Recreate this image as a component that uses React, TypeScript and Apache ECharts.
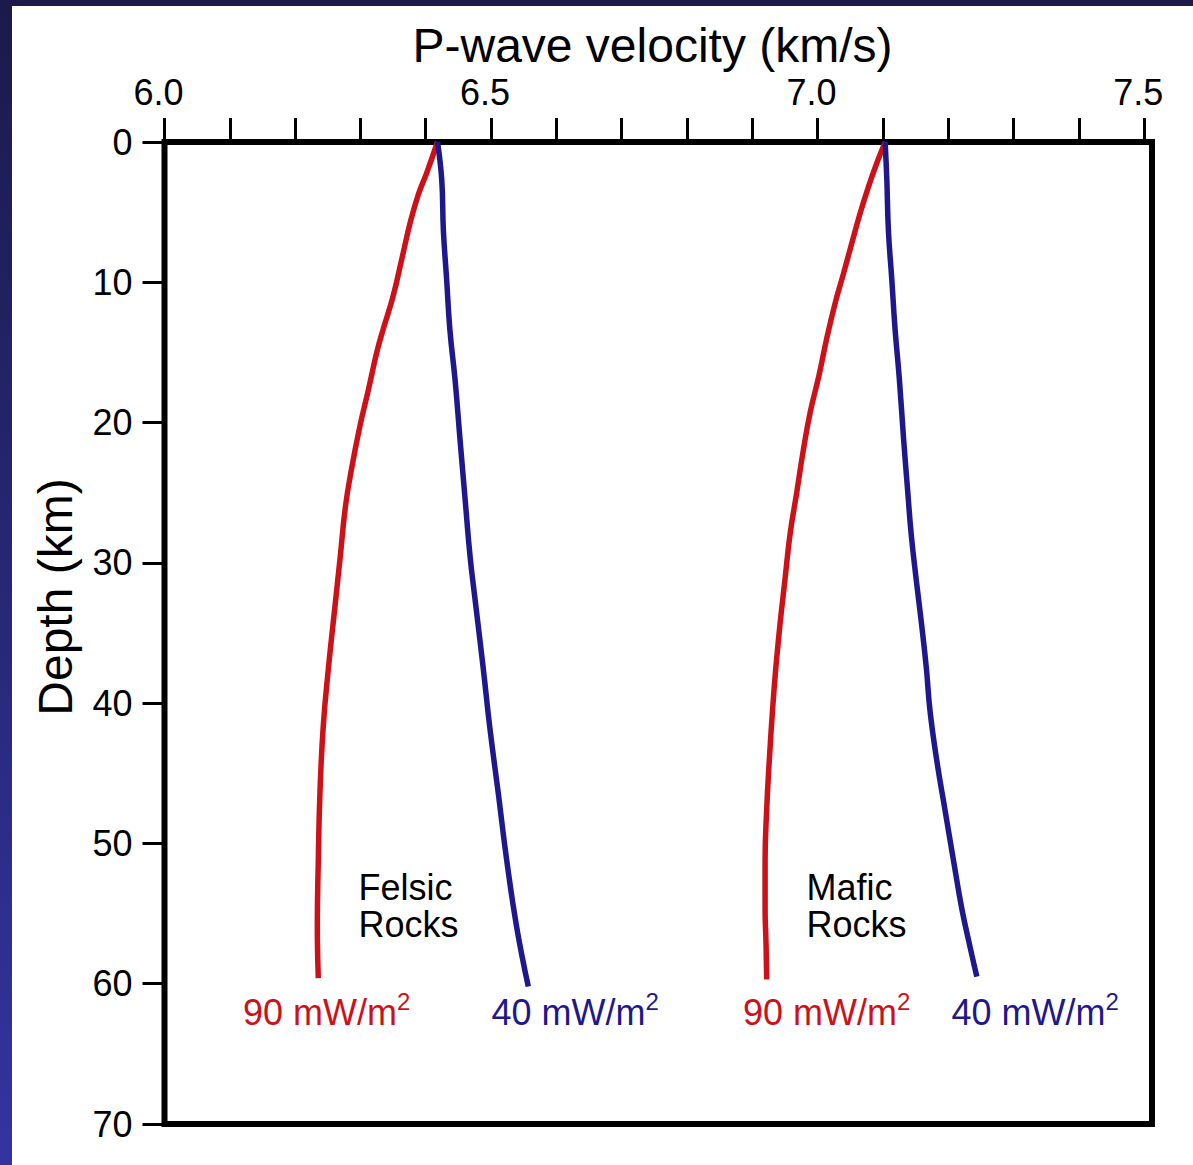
import React, { useEffect, useRef } from 'react';
import * as echarts from 'echarts';

// Axis ticks / labels
const velocityTicks = [6.0, 6.1, 6.2, 6.3, 6.4, 6.5, 6.6, 6.7, 6.8, 6.9, 7.0, 7.1, 7.2, 7.3, 7.4, 7.5];
const velocityLabels = [6.0, 6.5, 7.0, 7.5];
const depthTicks = [0, 10, 20, 30, 40, 50, 60, 70];

// [velocity km/s, depth km]
const felsic90 = [
  [6.418, 0], [6.4015, 2.2], [6.389, 3.7], [6.377, 5.6], [6.364, 8.2], [6.350, 11.0],
  [6.3345, 13.4], [6.325, 15.0], [6.312, 17.7], [6.299, 20.3], [6.286, 23.4], [6.277, 26.0],
  [6.269, 29.6], [6.261, 33.1], [6.251, 37.5], [6.243, 41.7], [6.238, 46.4], [6.2355, 51.2],
  [6.234, 55.9], [6.2355, 59.6],
];
const felsic40 = [
  [6.418, 0], [6.4245, 2.7], [6.427, 6.3], [6.432, 9.8], [6.437, 13.4], [6.445, 17.0],
  [6.4525, 21.2], [6.460, 25.3], [6.468, 29.6], [6.4755, 32.6], [6.488, 37.5], [6.498, 41.7],
  [6.511, 46.4], [6.524, 51.2], [6.539, 55.9], [6.557, 60.2],
];
const mafic90 = [
  [7.1034, 0], [7.0907, 1.5], [7.0778, 3.2], [7.065, 5.1], [7.0524, 7.2], [7.0395, 9.4],
  [7.0268, 11.5], [7.014, 14.0], [7.0023, 16.6], [6.9885, 19.3], [6.978, 22.0], [6.968, 25.0],
  [6.958, 27.9], [6.950, 31.2], [6.9426, 34.3], [6.936, 37.5], [6.931, 40.5], [6.926, 44.1],
  [6.922, 47.6], [6.9196, 51.2], [6.9196, 54.7], [6.921, 57.1], [6.922, 59.7],
];
const mafic40 = [
  [7.1034, 0], [7.106, 2.7], [7.1084, 6.3], [7.1136, 9.8], [7.1187, 13.4], [7.125, 16.8],
  [7.1317, 21.2], [7.1378, 24.8], [7.1432, 27.9], [7.151, 31.2], [7.1590, 34.3], [7.1665, 37.5],
  [7.172, 40.5], [7.1825, 44.1], [7.195, 47.6], [7.208, 51.2], [7.221, 54.7], [7.2335, 57.4],
  [7.2438, 59.5],
];

const xTitle = 'P-wave velocity (km/s)';
const yTitle = 'Depth (km)';
const heatFlowHigh = '90 mW/m';
const heatFlowLow = '40 mW/m';

const FONT = '"Liberation Sans", Arial, Helvetica, sans-serif';
const RED = '#cc1218';
const BLUE = '#1f188c';

export default function App() {
  const ref = useRef<HTMLDivElement>(null);

  useEffect(() => {
    if (!ref.current) return;
    const chart = echarts.init(ref.current, null, { renderer: 'svg' });

    const lineSeries = (name: string, data: number[][], color: string) => ({
      type: 'line',
      name,
      data,
      showSymbol: false,
      symbol: 'none',
      smooth: 0.45,
      lineStyle: { color, width: 5.5, cap: 'butt', join: 'round' },
      itemStyle: { color },
      z: 3,
    });

    const fluxLabel = (x: number, y: number, txt: string, color: string) => ({
      type: 'text',
      x,
      y,
      silent: true,
      style: {
        text: `{a|${txt}}{b|2}`,
        fill: color,
        align: 'left',
        verticalAlign: 'top',
        rich: {
          a: { fontSize: 36, fontFamily: FONT, fill: color, lineHeight: 46 },
          b: { fontSize: 24, fontFamily: FONT, fill: color, lineHeight: 24, verticalAlign: 'top' },
        },
      },
    });

    const rockLabel = (x: number, y: number, txt: string) => ({
      type: 'text',
      x,
      y,
      silent: true,
      style: {
        text: txt,
        fontSize: 36,
        fontFamily: FONT,
        fill: '#000',
        lineHeight: 37,
        align: 'left',
        verticalAlign: 'top',
      },
    });

    chart.setOption({
      animation: false,
      backgroundColor: '#ffffff',
      grid: {
        left: 164.5,
        top: 142,
        right: 41,
        bottom: 41,
        show: true,
        borderColor: '#000',
        borderWidth: 6,
        backgroundColor: 'transparent',
      },
      xAxis: {
        type: 'value',
        position: 'top',
        min: 6.0,
        max: 7.512,
        axisLine: { show: false },
        axisTick: {
          show: true,
          inside: false,
          length: 24,
          lineStyle: { color: '#000', width: 3 },
          customValues: velocityTicks,
        },
        axisLabel: {
          customValues: velocityLabels,
          formatter: (v: number) => v.toFixed(1),
          fontSize: 36,
          fontFamily: FONT,
          color: '#000',
          margin: 32,
          padding: [0, 12, 0, 0],
        },
        splitLine: { show: false },
      },
      yAxis: {
        type: 'value',
        inverse: true,
        min: 0,
        max: 70,
        interval: 10,
        axisLine: { show: false },
        axisTick: {
          show: true,
          inside: false,
          length: 22,
          lineStyle: { color: '#000', width: 3 },
          customValues: depthTicks,
        },
        axisLabel: {
          customValues: depthTicks,
          fontSize: 36,
          fontFamily: FONT,
          color: '#000',
          margin: 32,
        },
        splitLine: { show: false },
      },
      series: [
        lineSeries('Felsic 90 mW/m2', felsic90, RED),
        lineSeries('Felsic 40 mW/m2', felsic40, BLUE),
        lineSeries('Mafic 90 mW/m2', mafic90, RED),
        lineSeries('Mafic 40 mW/m2', mafic40, BLUE),
      ],
      graphic: [
        {
          type: 'rect',
          silent: true,
          shape: { x: 0, y: 0, width: 1193, height: 6 },
          style: { fill: '#1b1a4b' },
        },
        {
          type: 'rect',
          silent: true,
          shape: { x: 0, y: 0, width: 12, height: 1165 },
          style: {
            fill: new echarts.graphic.LinearGradient(0, 0, 0, 1, [
              { offset: 0, color: '#1b1a4b' },
              { offset: 1, color: '#3334a0' },
            ]),
          },
        },
        {
          type: 'text',
          x: 652.5,
          y: 45,
          silent: true,
          style: {
            text: xTitle,
            fontSize: 48,
            fontFamily: FONT,
            fill: '#000',
            align: 'center',
            verticalAlign: 'middle',
          },
        },
        {
          type: 'text',
          x: 55,
          y: 597,
          rotation: Math.PI / 2,
          silent: true,
          style: {
            text: yTitle,
            fontSize: 48,
            fontFamily: FONT,
            fill: '#000',
            align: 'center',
            verticalAlign: 'middle',
          },
        },
        rockLabel(358.5, 869, 'Felsic\nRocks'),
        rockLabel(806.5, 869, 'Mafic\nRocks'),
        fluxLabel(243, 989, heatFlowHigh, RED),
        fluxLabel(491.5, 989, heatFlowLow, BLUE),
        fluxLabel(743, 989, heatFlowHigh, RED),
        fluxLabel(951.5, 989, heatFlowLow, BLUE),
      ],
    });

    return () => chart.dispose();
  }, []);

  return (
    <div
      ref={ref}
      style={{ position: 'absolute', left: 0, top: 0, width: 1193, height: 1165 }}
    />
  );
}
